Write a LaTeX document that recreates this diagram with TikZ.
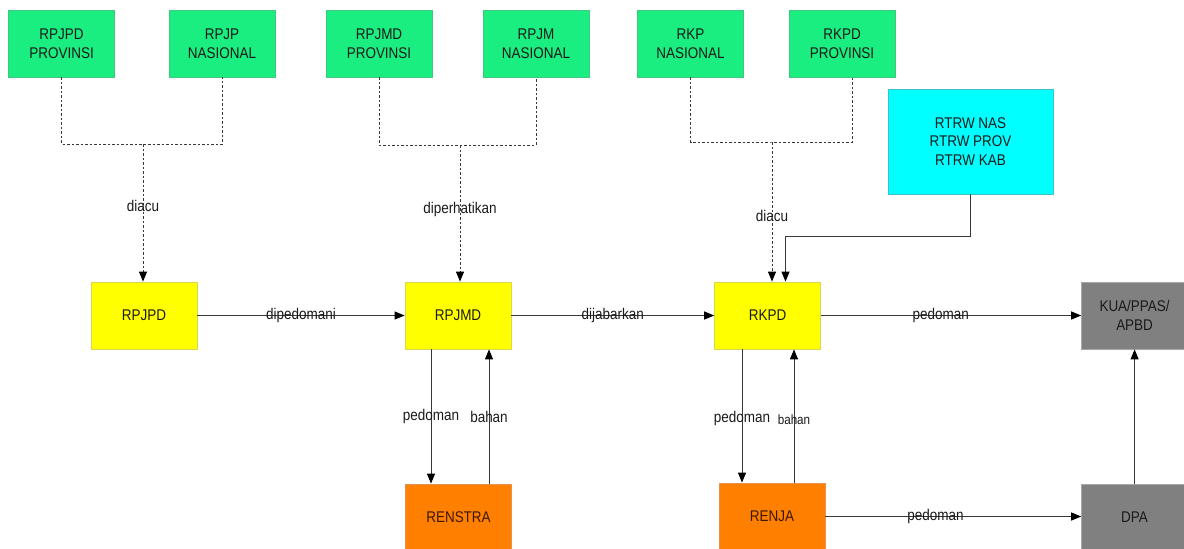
\documentclass[tikz,border=0pt]{standalone}
\usepackage{fontspec}
\setmainfont{Liberation Sans}[FakeStretch=0.87]
\usepackage{xcolor}
\usepackage{tikz}
\usetikzlibrary{calc,arrows.meta}
\definecolor{ink}{HTML}{1A1A1A}
\definecolor{inkor}{HTML}{3A1800}
\definecolor{wire}{HTML}{383838}
\definecolor{hijau}{HTML}{1AEE80}
\definecolor{hijaued}{HTML}{40C880}
\definecolor{kuning}{HTML}{FFFF00}
\definecolor{kuninged}{HTML}{D8D850}
\definecolor{oranye}{HTML}{FF7F00}
\definecolor{oranyeed}{HTML}{E89050}
\definecolor{toska}{HTML}{00FFFF}
\definecolor{toskaed}{HTML}{40C0C8}
\definecolor{abu}{HTML}{808080}
\definecolor{abued}{HTML}{A8A8A8}
\tikzset{
  box/.style={rectangle, minimum width=106pt, minimum height=67pt, inner sep=0pt, line width=0.8pt,
              align=center, text=ink, font=\fontsize{15.5}{18.5}\selectfont},
  hijbox/.style={box, fill=hijau, draw=hijaued},
  kunbox/.style={box, fill=kuning, draw=kuninged},
  orbox/.style={box, fill=oranye, draw=oranyeed, text=inkor},
  tosbox/.style={box, fill=toska, draw=toskaed, minimum width=165pt, minimum height=105pt},
  abubox/.style={box, fill=abu, draw=abued},
  arr/.style={draw=wire, line width=1pt, -{Triangle[length=10pt,width=8pt,color=black]}},
  dashln/.style={draw=wire, line width=1pt, dash pattern=on 2.5pt off 2pt},
  dasharr/.style={dashln, -{Triangle[length=10pt,width=8pt,color=black]}},
  lab/.style={text=ink, font=\fontsize{15.5}{17}\selectfont, inner sep=1pt},
  labs/.style={lab, font=\fontsize{13.4}{15}\selectfont}
}
\begin{document}
\begin{tikzpicture}[x=1pt,y=-1pt]
  \useasboundingbox (0,0) rectangle (1184,549);

  \node[hijbox] (rpjpdprov) at (61.6,43.5) {RPJPD\\PROVINSI};
  \node[hijbox] (rpjpnas)   at (222,43.5)  {RPJP\\NASIONAL};
  \node[hijbox] (rpjmdprov) at (379,43.5)  {RPJMD\\PROVINSI};
  \node[hijbox] (rpjmnas)   at (536,43.5)  {RPJM\\NASIONAL};
  \node[hijbox] (rkpnas)    at (690.5,43.5) {RKP\\NASIONAL};
  \node[hijbox] (rkpdprov)  at (842,43.5)  {RKPD\\PROVINSI};
  \node[tosbox] (rtrw)      at (970.5,141.5) {RTRW NAS\\RTRW PROV\\RTRW KAB};

  \node[kunbox] (rpjpd) at (143.9,315.5) {RPJPD};
  \node[kunbox] (rpjmd) at (458,315.5)   {RPJMD};
  \node[kunbox] (rkpd)  at (767.6,315.5) {RKPD};
  \node[abubox] (kua)   at (1134.6,315.5) {KUA/PPAS/\\APBD};

  \node[orbox]  (renstra) at (458.5,517.5) {RENSTRA};
  \node[orbox]  (renja)   at (772,516.5)   {RENJA};
  \node[abubox] (dpa)     at (1134.6,517.5) {DPA};

  \coordinate (j1) at (143,144);
  \coordinate (j2) at (460,145);
  \coordinate (j3) at (772,142);
  \coordinate (r1) at (785.5,236);

  \draw[dashln] (rpjpdprov.south) |- (j1) -| (rpjpnas.south);
  \draw[dasharr] (j1) -- node[lab, pos=0.45] {diacu} (j1 |- rpjpd.north);
  \draw[dashln] (rpjmdprov.south) |- (j2) -| (rpjmnas.south);
  \draw[dasharr] (j2) -- node[lab, pos=0.47] {diperhatikan} (j2 |- rpjmd.north);
  \draw[dashln] (rkpnas.south) |- (j3) -| ($(rkpdprov.south)+(10,0)$);
  \draw[dasharr] (j3) -- node[lab, pos=0.53] {diacu} (j3 |- rkpd.north);
  \draw[arr] (rtrw.south) |- (r1) -- (r1 |- rkpd.north);

  \draw[arr] (rpjpd) -- node[lab] {dipedomani} (rpjmd);
  \draw[arr] (rpjmd) -- node[lab] {dijabarkan} (rkpd);
  \draw[arr] (rkpd) -- node[lab, pos=0.46] {pedoman} (kua);
  \draw[arr] (renja) -- node[lab, pos=0.43] {pedoman} (renja -| dpa.west);
  \draw[arr] (dpa) -- (kua);

  \coordinate (m1) at ($(rpjmd.south)+(-27,0)$);
  \coordinate (m2) at ($(renstra.north)+(30.5,0)$);
  \draw[arr] (m1) -- node[lab] {pedoman} (m1 |- renstra.north);
  \draw[arr] (m2) -- node[lab] {bahan} (m2 |- rpjmd.south);

  \coordinate (k1) at ($(rkpd.south)+(-25.6,0)$);
  \coordinate (k2) at ($(renja.north)+(22,0)$);
  \draw[arr] (k1) -- node[lab, pos=0.52] {pedoman} (k1 |- renja.north);
  \draw[arr] (k2) -- node[labs, pos=0.47] {bahan} (k2 |- rkpd.south);
\end{tikzpicture}
\end{document}
